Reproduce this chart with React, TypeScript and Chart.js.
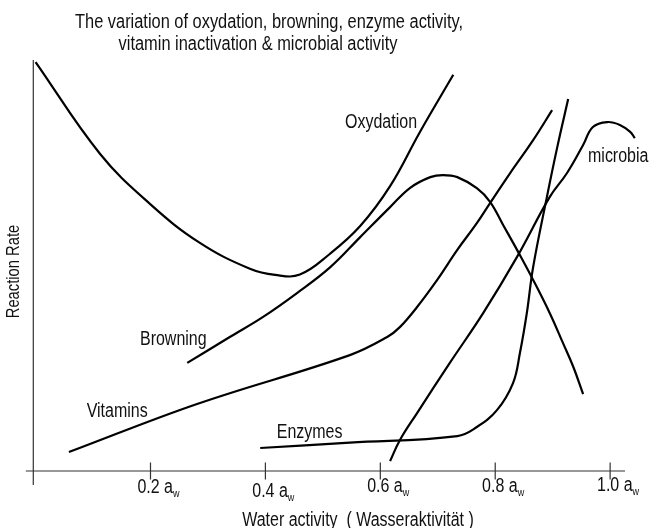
import React, { useEffect, useRef } from 'react';
import { Chart, registerables } from 'chart.js';

Chart.register(...registerables);

// ---------- data ----------
const titleLines = [
  'The variation of oxydation, browning, enzyme activity,',
  'vitamin inactivation & microbial activity',
];
const xAxisTitle = 'Water activity  ( Wasseraktivität )';
const yAxisTitle = 'Reaction Rate';

const xTickValues = [0.2, 0.4, 0.6, 0.8, 1.0];
const xTickLabels = ['0.2', '0.4', '0.6', '0.8', '1.0'];
const tickUnit = 'a';
const tickUnitSub = 'w';

const seriesNames = ['Oxydation', 'Browning', 'Vitamins', 'Enzymes', 'microbia'];

const oxydationX = [0.0, 0.112, 0.199, 0.286, 0.373, 0.417, 0.46, 0.512, 0.565, 0.617, 0.669, 0.727];
const oxydationY = [99.5, 77.2, 65.0, 55.5, 49.2, 47.7, 47.8, 52.8, 59.6, 69.3, 82.5, 96.4];

const browningX = [0.264, 0.338, 0.396, 0.455, 0.513, 0.565, 0.617, 0.652, 0.687, 0.709, 0.734, 0.768, 0.791, 0.814, 0.838, 0.866, 0.895, 0.918, 0.936, 0.953];
const browningY = [26.3, 32.6, 37.5, 43.3, 49.6, 56.9, 64.2, 68.9, 71.5, 72.0, 71.5, 68.8, 65.5, 59.8, 53.8, 46.5, 38.4, 31.1, 25.3, 18.7];

const vitaminsX = [0.058, 0.281, 0.547, 0.612, 0.634, 0.664, 0.699, 0.734, 0.768, 0.791, 0.826, 0.866, 0.899];
const vitaminsY = [4.6, 16.3, 28.2, 32.6, 35.0, 39.9, 46.5, 53.8, 60.3, 65.2, 72.5, 80.5, 87.8];

const enzymesX = [0.391, 0.547, 0.734, 0.768, 0.803, 0.831, 0.843, 0.855, 0.866, 0.890, 0.908, 0.927];
const enzymesY = [5.6, 6.9, 8.5, 10.7, 14.8, 21.4, 28.7, 38.4, 49.6, 66.7, 78.8, 90.5];

const microbiaX = [0.617, 0.634, 0.664, 0.721, 0.779, 0.838, 0.895, 0.925, 0.953, 0.970, 0.995, 1.017, 1.035, 1.043];
const microbiaY = [2.4, 7.5, 14.1, 26.3, 38.4, 52.1, 66.7, 72.5, 79.3, 83.7, 84.9, 84.2, 82.5, 81.0];

// curve label anchors (data coords, left / baseline)
const labelX = [0.5386, 0.1817, 0.0889, 0.4197, 0.9615];
const labelY = [83.45, 30.66, 13.14, 8.03, 75.18];

// ---------- layout / style ----------
const W = 652;
const H = 528;
const X_MIN = -0.0045;
const X_MAX = 1.052;
const Y_MIN = 0;
const Y_MAX = 100;
const Y_AXIS_AT = -0.004;
const X_AXIS_FROM = -0.017;
const X_AXIS_TO = 1.026;
const tickLabelDy = [1, 5, 0, 0, -1];

const seriesX = [oxydationX, browningX, vitaminsX, enzymesX, microbiaX];
const seriesY = [oxydationY, browningY, vitaminsY, enzymesY, microbiaY];

let narrowCache: boolean | null = null;
function hasNarrow(ctx: CanvasRenderingContext2D): boolean {
  if (narrowCache !== null) return narrowCache;
  ctx.save();
  ctx.font = '20px "Liberation Sans Narrow", monospace';
  const a = ctx.measureText('Oxydation microbia').width;
  ctx.font = '20px monospace';
  const b = ctx.measureText('Oxydation microbia').width;
  ctx.restore();
  narrowCache = Math.abs(a - b) > 1;
  return narrowCache;
}

function setFont(ctx: CanvasRenderingContext2D, size: number) {
  if (hasNarrow(ctx)) {
    ctx.font = `${size}px "Liberation Sans Narrow", "Liberation Sans", Arial, sans-serif`;
    return 1;
  }
  ctx.font = `${size}px "Liberation Sans", Arial, sans-serif`;
  return 0.82;
}

function drawText(
  ctx: CanvasRenderingContext2D,
  text: string,
  x: number,
  y: number,
  size: number,
  align: CanvasTextAlign = 'left',
  baseline: CanvasTextBaseline = 'alphabetic',
) {
  ctx.save();
  const k = setFont(ctx, size);
  ctx.textAlign = align;
  ctx.textBaseline = baseline;
  ctx.fillStyle = '#111';
  ctx.translate(x, y);
  if (k !== 1) ctx.scale(k, 1);
  ctx.fillText(text, 0, 0);
  ctx.restore();
}

function textWidth(ctx: CanvasRenderingContext2D, text: string, size: number) {
  ctx.save();
  const k = setFont(ctx, size);
  const w = ctx.measureText(text).width * k;
  ctx.restore();
  return w;
}

const overlayPlugin = {
  id: 'overlay',
  afterDraw(chart: any) {
    const ctx: CanvasRenderingContext2D = chart.ctx;
    const xs = chart.scales.x;
    const ys = chart.scales.y;
    const x0 = xs.getPixelForValue(Y_AXIS_AT);
    const y0 = ys.getPixelForValue(0);
    const yTop = ys.getPixelForValue(Y_MAX);

    // axes
    ctx.save();
    ctx.strokeStyle = '#333';
    ctx.lineWidth = 1.2;
    ctx.beginPath();
    ctx.moveTo(x0, yTop);
    ctx.lineTo(x0, y0 + 14);
    ctx.moveTo(xs.getPixelForValue(X_AXIS_FROM), y0);
    ctx.lineTo(xs.getPixelForValue(X_AXIS_TO), y0);
    xTickValues.forEach((v) => {
      const px = xs.getPixelForValue(v);
      ctx.moveTo(px, y0 - 8.5);
      ctx.lineTo(px, y0 + 8.5);
    });
    ctx.stroke();
    ctx.restore();

    // tick labels with subscript
    xTickValues.forEach((v, i) => {
      const px = xs.getPixelForValue(v);
      const num = xTickLabels[i];
      const wNum = textWidth(ctx, num, 19.5);
      const left = px - 2 - wNum / 2;
      const base = y0 + 21 + tickLabelDy[i];
      drawText(ctx, num, left, base, 19.5);
      const wSp = textWidth(ctx, ' ', 19.5);
      const ax = left + wNum + wSp;
      drawText(ctx, tickUnit, ax, base, 19.5);
      const wa = textWidth(ctx, tickUnit, 19.5);
      drawText(ctx, tickUnitSub, ax + wa, base + 4, 11);
    });

    // titles
    drawText(ctx, titleLines[0], 269, 28, 20, 'center');
    drawText(ctx, titleLines[1], 258, 50, 20, 'center');
    drawText(ctx, xAxisTitle, 358, 526, 19.5, 'center');

    ctx.save();
    ctx.translate(14, 271.5);
    ctx.rotate(-Math.PI / 2);
    drawText(ctx, yAxisTitle, 0, 0, 18, 'center', 'middle');
    ctx.restore();

    // curve labels
    seriesNames.forEach((name, i) => {
      drawText(ctx, name, xs.getPixelForValue(labelX[i]), ys.getPixelForValue(labelY[i]), 19.5);
    });
  },
};

export default function App() {
  const ref = useRef<HTMLCanvasElement | null>(null);

  useEffect(() => {
    if (!ref.current) return;
    const datasets = seriesNames.map((name, i) => ({
      label: name,
      data: seriesX[i].map((x, j) => ({ x, y: seriesY[i][j] })),
      borderColor: '#000',
      borderWidth: 2.2,
      pointRadius: 0,
      fill: false,
      tension: 0.4,
      clip: false as any,
    }));
    const chart = new Chart(ref.current, {
      type: 'line',
      data: { datasets },
      options: {
        responsive: false,
        animation: false,
        devicePixelRatio: 1,
        layout: { padding: { left: 33, right: 12, top: 60, bottom: 57 } },
        plugins: { legend: { display: false }, tooltip: { enabled: false }, title: { display: false } },
        scales: {
          x: { type: 'linear', min: X_MIN, max: X_MAX, display: false },
          y: { type: 'linear', min: Y_MIN, max: Y_MAX, display: false },
        },
      },
      plugins: [overlayPlugin],
    });
    return () => chart.destroy();
  }, []);

  return (
    <div style={{ position: 'absolute', left: 0, top: 0, width: W, height: H, background: '#fff' }}>
      <canvas ref={ref} width={W} height={H} style={{ width: W, height: H, display: 'block' }} />
    </div>
  );
}
